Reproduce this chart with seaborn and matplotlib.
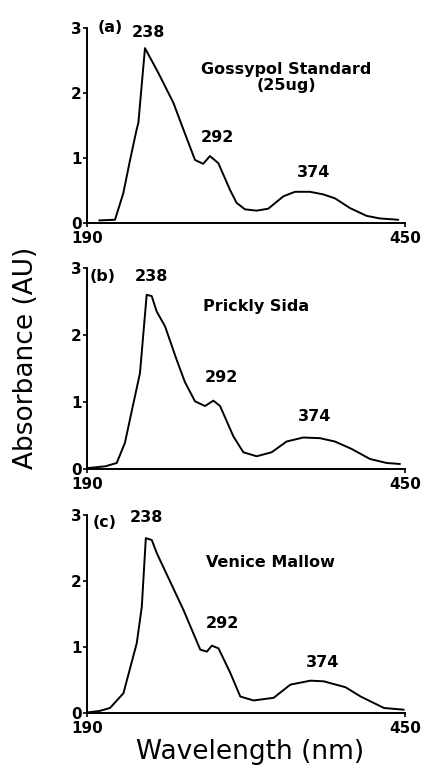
import numpy as np
import pandas as pd
import matplotlib
matplotlib.use("Agg")
import matplotlib.pyplot as plt
import seaborn as sns

sns.set_style("ticks")
plt.rcParams['font.family'] = ['DejaVu Sans']
plt.rcParams['text.color'] = 'black'
plt.rcParams['xtick.color'] = 'black'
plt.rcParams['ytick.color'] = 'black'
plt.rcParams['axes.edgecolor'] = 'black'
plt.rcParams['axes.labelcolor'] = 'black'

# Panel (a) Gossypol Standard
wl_a = [200, 212.9, 219.7, 225, 230.6, 232, 237.4, 248.3, 260.6, 270, 278.3, 285, 290.5, 297.4, 306.9, 312.3, 319.2, 328.7, 338.2, 350.5, 360, 372.3, 383.2, 392.7, 405, 418.6, 429.5, 444.5]
ab_a = [0.04, 0.05, 0.46, 0.95, 1.44, 1.54, 2.69, 2.31, 1.85, 1.38, 0.97, 0.91, 1.03, 0.92, 0.51, 0.31, 0.21, 0.19, 0.22, 0.41, 0.48, 0.48, 0.44, 0.38, 0.23, 0.11, 0.07, 0.05]

# Panel (b) Prickly Sida
wl_b = [191, 205, 214.3, 221, 227, 233.3, 238.8, 242.9, 247, 253.8, 263.3, 270, 278.3, 286.5, 293.3, 298.8, 309.6, 317.8, 328.7, 341, 353.2, 366.8, 380.5, 392.7, 406.3, 421.3, 434.9, 445.9]
ab_b = [0.015, 0.04, 0.09, 0.39, 0.9, 1.43, 2.6, 2.58, 2.35, 2.13, 1.63, 1.3, 1.01, 0.94, 1.02, 0.94, 0.49, 0.25, 0.19, 0.25, 0.41, 0.47, 0.46, 0.41, 0.30, 0.15, 0.09, 0.075]

# Panel (c) Venice Mallow
wl_c = [191, 200, 208.8, 219.8, 230.7, 234.8, 238.1, 243, 247.1, 258, 268.9, 282.6, 288, 292.1, 297.5, 307.1, 315.3, 326.2, 342.6, 356.3, 372.7, 383.6, 401.4, 413.7, 432.8, 449]
ab_c = [0.01, 0.03, 0.076, 0.30, 1.06, 1.61, 2.65, 2.62, 2.42, 1.99, 1.56, 0.96, 0.93, 1.02, 0.98, 0.61, 0.25, 0.19, 0.23, 0.43, 0.49, 0.48, 0.39, 0.25, 0.076, 0.05]

x_ticks = [190, 450]
y_ticks = [0, 1, 2, 3]
peak_labels = ["238", "292", "374"]
panel_tags = ["(a)", "(b)", "(c)"]
sample_names = ["Gossypol Standard\n(25ug)", "Prickly Sida", "Venice Mallow"]

fig = plt.figure(figsize=(4.24, 7.68), dpi=100)
rects = [
    [87/424, 1-223/768, 318/424, 195/768],
    [87/424, 1-469/768, 318/424, 201/768],
    [87/424, 1-713/768, 318/424, 198/768],
]
datasets = [(wl_a, ab_a), (wl_b, ab_b), (wl_c, ab_c)]

# text positions (x nm, y AU) per panel: tag, 238, 292, 374, name
pos = [
    [(208.8, 3.0), (239.9, 2.93), (296.3, 1.31), (375.6, 0.77), (352.7, 2.24)],
    [(202.5, 2.88), (243, 2.87), (299.6, 1.36), (376.4, 0.78), (328, 2.43)],
    [(204.7, 2.88), (239, 2.96), (300.4, 1.35), (383, 0.77), (339.6, 2.28)],
]

tfont = dict(fontsize=11.5, fontweight='bold', color='black')
for i, (r, (wl, ab)) in enumerate(zip(rects, datasets)):
    ax = fig.add_axes(r)
    df = pd.DataFrame({"Wavelength": wl, "Absorbance": ab})
    sns.lineplot(data=df, x="Wavelength", y="Absorbance", ax=ax, color='black', linewidth=1.4)
    ax.set_xlim(190, 450)
    ax.set_ylim(0, 3)
    ax.set_xticks(x_ticks)
    ax.set_yticks(y_ticks)
    ax.set_xticklabels([str(t) for t in x_ticks], fontsize=11, fontweight='bold')
    ax.set_yticklabels([str(t) for t in y_ticks], fontsize=11, fontweight='bold')
    ax.tick_params(axis='y', length=3, width=1.2, pad=1, direction='out')
    ax.tick_params(axis='x', length=3, width=1.2, pad=3, direction='out')
    for s in ['top', 'right']:
        ax.spines[s].set_visible(False)
    for s in ['left', 'bottom']:
        ax.spines[s].set_linewidth(1.4)
    ax.set_xlabel("")
    ax.set_ylabel("")
    p = pos[i]
    ax.text(p[0][0], p[0][1], panel_tags[i], ha='center', va='center', **tfont)
    for j, lab in enumerate(peak_labels):
        ax.text(p[j+1][0], p[j+1][1], lab, ha='center', va='center', **tfont)
    ax.text(p[4][0], p[4][1], sample_names[i], ha='center', va='center',
            fontsize=11.5, fontweight='bold', linespacing=1.05)

fig.text(250/424, 1-752/768, "Wavelength (nm)", ha='center', va='center', fontsize=19)
fig.text(26/424, 1-358/768, "Absorbance (AU)", rotation=90, ha='center', va='center', fontsize=19)

fig.savefig("out.png", dpi=100)
